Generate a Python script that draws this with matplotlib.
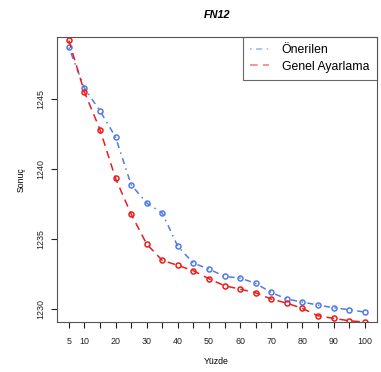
import matplotlib
matplotlib.use("Agg")
import matplotlib.pyplot as plt

plt.rcParams['font.family'] = ['Liberation Sans', 'DejaVu Sans']

x = [5, 10, 15, 20, 25, 30, 35, 40, 45, 50, 55, 60, 65, 70, 75, 80, 85, 90, 95, 100]
onerilen = [1248.66, 1245.76, 1244.14, 1242.26, 1238.86, 1237.55, 1236.84, 1234.45,
            1233.26, 1232.83, 1232.31, 1232.19, 1231.81, 1231.16, 1230.69, 1230.48,
            1230.26, 1230.07, 1229.93, 1229.76]
genel = [1249.16, 1245.48, 1242.80, 1239.31, 1236.76, 1234.62, 1233.45, 1233.10,
         1232.71, 1232.14, 1231.64, 1231.40, 1231.14, 1230.69, 1230.40, 1230.02,
         1229.50, 1229.31, 1229.14, 1229.05]
xticks = [5, 10, 15, 20, 25, 30, 35, 40, 45, 50, 55, 60, 65, 70, 75, 80, 85, 90, 95, 100]
xticklabels = ['5', '10', '', '20', '', '30', '', '40', '', '50', '', '60', '', '70', '', '80', '', '90', '', '100']
yticks = [1230, 1235, 1240, 1245]

W, H = 381, 372
fig = plt.figure(figsize=(W / 100, H / 100), dpi=100)
ax = fig.add_axes([57 / W, 1 - 322.3 / H, (376.5 - 57) / W, (322.3 - 37) / H])

blue = '#4F7BEA'
red = '#EE1C1C'
ax.plot(x, onerilen, color=blue, lw=1.1, linestyle=(0, (1, 3, 4, 3)),
        marker='o', markersize=3.6, markerfacecolor='none', markeredgewidth=1.1,
        label='Önerilen')
ax.plot(x, genel, color=red, lw=1.1, linestyle=(0, (5, 3.5)),
        marker='o', markersize=3.6, markerfacecolor='none', markeredgewidth=1.1,
        label='Genel Ayarlama')

ax.set_xlim(1.2, 103.8)
ax.set_ylim(1229.03, 1249.41)

ax.set_xticks(xticks)
ax.set_xticklabels(xticklabels, fontsize=6.4, color='#222222')
ax.set_yticks(yticks)
ax.set_yticklabels([str(v) for v in yticks], fontsize=6.4, rotation=90, va='center', color='#222222')
ax.tick_params(axis='x', direction='out', length=4.5, width=0.8, pad=6, colors='#222222')
ax.tick_params(axis='y', direction='out', length=4.5, width=0.8, pad=4, colors='#222222')

for s in ax.spines.values():
    s.set_color('#555555')
    s.set_linewidth(0.8)

fig.text((57 + 376.5) / 2 / W, 1 - 15 / H, 'FN12', ha='center', va='center',
         fontsize=7.8, fontweight='bold', fontstyle='italic')
fig.text((57 + 376.5) / 2 / W, 1 - 362 / H, 'Yüzde', ha='center', va='center', fontsize=6.3)
fig.text(21 / W, 1 - 180 / H, 'Sonuç', ha='center', va='center', fontsize=6.3, rotation=90)

leg = ax.legend(loc='upper right', bbox_to_anchor=(1.0, 1.0), borderaxespad=0,
                fontsize=8.8, frameon=True, fancybox=False, handlelength=1.6,
                handletextpad=1.0, labelspacing=0.35, borderpad=0.6)
leg.get_frame().set_edgecolor('#444444')
leg.get_frame().set_linewidth(0.8)
for h in leg.get_lines():
    h.set_marker('')
    h.set_alpha(0.6)

fig.savefig('out.png', dpi=100)
